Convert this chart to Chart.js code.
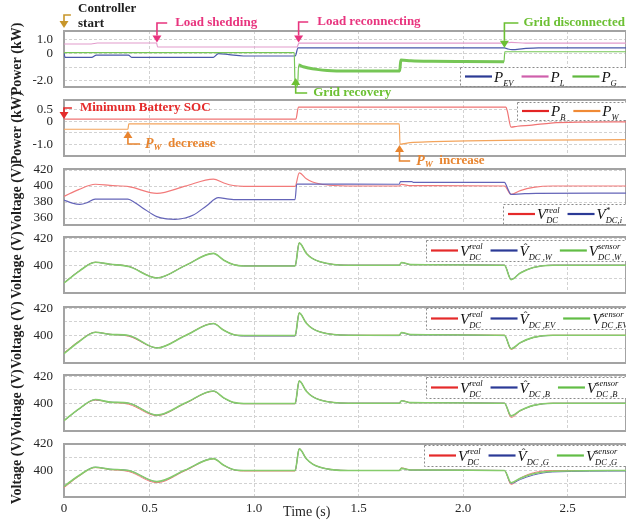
<!DOCTYPE html>
<html>
<head>
<meta charset="utf-8">
<script src="https://cdn.jsdelivr.net/npm/chart.js@4.4.1/dist/chart.umd.min.js"></script>
<style>
  html, body { margin: 0; padding: 0; background: #fff; }
  #wrap { position: relative; width: 626px; height: 521px; overflow: hidden; background: #fff; }
  #wrap canvas { position: absolute; left: 0; top: 0; }
</style>
</head>
<body>
<div id="wrap">
  <canvas id="p1" width="626" height="521"></canvas>
  <canvas id="p2" width="626" height="521"></canvas>
  <canvas id="p3" width="626" height="521"></canvas>
  <canvas id="p4" width="626" height="521"></canvas>
  <canvas id="p5" width="626" height="521"></canvas>
  <canvas id="p6" width="626" height="521"></canvas>
  <canvas id="p7" width="626" height="521"></canvas>
</div>
<script>
// ---------- time axis ----------
const T_START = 0.09;          // first recorded instant, shown as 0
const T_END = 2.78;
const X_TICKS = [T_START, 0.5, 1.0, 1.5, 2.0, 2.5];
const X_TICK_LABELS = ['0', '0.5', '1.0', '1.5', '2.0', '2.5'];

// ---------- power panel 1 (kW) ----------
const P1_TICKS = [1, 0, -1, -2];
const P1_TICK_LABELS = ['1.0', '0', '', '-2.0'];
const tPEV = [0.09, 0.095, 0.222, 0.245, 0.398, 0.414, 0.805, 0.829, 0.88, 0.949, 1.197, 1.21, 2.198, 2.215, 2.235, 2.29, 2.36, 2.78];
const pEV  = [0.06, -0.28, -0.28, -0.11, -0.11, -0.28, -0.28, 0.0, -0.08, -0.18, -0.18, 0.42, 0.42, 0.33, 0.28, 0.36, 0.42, 0.42];
const tPL = [0.09, 0.22, 0.25, 0.533, 0.538, 1.205, 1.215, 2.2, 2.23, 2.3, 2.78];
const pL  = [0.70, 0.70, 0.77, 0.77, 0.48, 0.48, 0.77, 0.76, 0.82, 0.76, 0.76];
const tPG = [0.09, 1.192, 1.196, 1.208, 1.213, 1.235, 1.26, 1.30, 1.35, 1.45, 1.60, 1.697, 1.702, 1.75, 1.85, 2.0, 2.196, 2.2, 2.78];
const pG  = [0.06, 0.06, -2.4, -2.4, -0.84, -0.97, -1.06, -1.16, -1.24, -1.28, -1.28, -1.27, -0.48, -0.53, -0.57, -0.59, -0.6, 0.13, 0.13];

// ---------- power panel 2 (kW) ----------
const P2_TICKS = [0.5, 0, -0.5, -1];
const P2_TICK_LABELS = ['0.5', '0', '', '-1.0'];
const tPB = [0.09, 1.2, 1.212, 2.205, 2.212, 2.23, 2.26, 2.33, 2.42, 2.55, 2.78];
const pB  = [0.10, 0.10, 0.62, 0.62, 0.45, -0.25, -0.21, -0.16, -0.07, -0.03, -0.02];
const tPW = [0.09, 0.396, 0.40, 1.695, 1.698, 1.747, 1.858, 2.02, 2.337, 2.78];
const pW  = [-0.34, -0.34, -0.11, -0.11, -0.99, -0.92, -0.88, -0.84, -0.81, -0.79];

// ---------- DC bus voltage (V) ----------
const V3_TICKS = [420, 400, 380, 360];
const V3_TICK_LABELS = ['420', '400', '380', '360'];
const V_TICKS = [420, 410, 400, 390];
const V_TICK_LABELS = ['420', '', '400', ''];

const tVi = [0.09, 0.13, 0.166, 0.2, 0.239, 0.396, 0.43, 0.47, 0.534, 0.58, 0.621, 0.67, 0.709, 0.773, 0.829, 0.87, 0.902, 1.196, 1.204, 1.695, 1.70, 1.755, 1.762, 2.198, 2.215, 2.23, 2.28, 2.35, 2.78];
const vDcI = [382.5, 378.5, 377, 379, 383.7, 383.5, 379, 372, 361.7, 358.8, 358.3, 360, 363.7, 375.4, 385.4, 384, 383, 383, 402.5, 402.2, 405.4, 405.4, 404.5, 404.5, 396, 389.6, 390.2, 390.8, 391];

const tV = [0.09, 0.16, 0.24, 0.31, 0.40, 0.535, 0.67, 0.805, 0.855, 0.90, 0.95, 1.196, 1.216, 1.25, 1.28, 1.316, 1.38, 1.45, 1.695, 1.705, 1.75, 2.198, 2.23, 2.274, 2.337, 2.43, 2.78];
const vDcReal = [387, 395.5, 402.2, 400.7, 399.2, 390.8, 399.8, 408.7, 403.8, 400.6, 399.6, 399.6, 416.5, 409, 405, 402.5, 400.6, 400, 400, 402, 400.4, 400, 389.5, 394.3, 398.3, 400, 400];
const vHatW  = [387, 395.4, 402.1, 400.7, 399.1, 390.7, 399.7, 408.6, 403.7, 400.5, 399.5, 399.5, 416.3, 408.8, 404.9, 402.5, 400.5, 400, 400, 401.9, 400.4, 400, 389.6, 394.3, 398.3, 400, 400];
const vSenW  = [386.9, 395.3, 402.2, 400.7, 399.0, 390.6, 399.7, 408.7, 403.7, 400.5, 399.4, 399.4, 416.5, 408.7, 404.8, 402.5, 400.5, 400, 400, 402, 400.4, 400, 389.4, 394.3, 398.3, 400, 400];
const vHatEV = [386.5, 395.1, 402.1, 400.6, 399.6, 390.7, 399.6, 408.5, 403.6, 400.4, 399.4, 399.4, 416.3, 408.8, 404.8, 402.4, 400.5, 400, 399.7, 401.8, 400.2, 399.7, 390.1, 394.4, 398.3, 399.8, 399.8];
const vSenEV = [386.4, 395, 402.2, 400.6, 399.8, 390.6, 399.6, 408.6, 403.6, 400.5, 399.8, 399.8, 416.5, 408.8, 404.8, 402.4, 400.5, 400, 400, 402, 400.4, 400, 390, 394.5, 398.4, 400, 400];
const vHatB  = [387.1, 395.5, 402.6, 400.8, 400, 391.2, 400, 408.9, 403.8, 400.5, 399.7, 399.7, 416.3, 408.8, 404.8, 402.4, 400.5, 400, 400, 401.8, 400.4, 400, 390.6, 394.5, 398.3, 399.9, 400];
const vSenB  = [387.1, 395.6, 402.7, 400.8, 400, 391.2, 400.1, 409, 403.9, 400.6, 399.8, 399.8, 416.5, 408.8, 404.8, 402.4, 400.5, 400, 400, 401.8, 400.4, 400, 390.7, 394.6, 398.4, 400, 400];
const vHatG  = [388, 396, 402.5, 401, 400, 391.6, 400.3, 409, 404, 400.7, 400, 400, 416.2, 408.8, 404.8, 402.4, 400.5, 400, 400, 401.6, 400.3, 400, 390.3, 393.2, 396.6, 398.9, 399.6];
const vSenG  = [388, 396, 402.5, 401, 400, 391.6, 400.3, 409, 404, 400.7, 400, 400, 416.3, 408.8, 404.8, 402.4, 400.5, 400, 400, 401.6, 400.4, 400, 390.8, 394.2, 397.6, 399.4, 400];

// ---------- styling ----------
const SERIF = '"Liberation Serif", "Times New Roman", serif';
const GRID = '#d2d2d2';
const FRAME = '#a3a3a3';
const TXT = '#262626';
const B13 = 'bold 13px ' + SERIF;
const BI14 = 'italic bold 14px ' + SERIF;
const BI9 = 'italic bold 9px ' + SERIF;

const C = {
  ev: '#4a58aa', evKey: '#2b3a94',
  load: '#e29ccc', loadKey: '#cf5fab',
  grid: '#76c656', gridKey: '#5fb83d',
  bat: '#f07474', batKey: '#e32424',
  wind: '#f3a45c', windKey: '#f08a35',
  real: '#f27a7a', realKey: '#e52a2a',
  est: '#6464b8', estKey: '#2b3a96',
  sen: '#86cc6c', senKey: '#62bd45'
};

function series(label, t, v, color, extra) {
  return Object.assign({
    label,
    data: t.map((x, i) => ({ x, y: v[i] })),
    borderColor: color,
    backgroundColor: color,
    borderWidth: 1.2,
    pointRadius: 0,
    fill: false,
    cubicInterpolationMode: 'monotone'
  }, extra || {});
}

// ---------- text helpers ----------
function drawRich(ctx, x, y, parts, color) {
  ctx.fillStyle = color;
  ctx.textBaseline = 'middle';
  ctx.textAlign = 'left';
  for (const p of parts) {
    ctx.font = p.f;
    ctx.fillText(p.s, x, y + (p.dy || 0));
    x += ctx.measureText(p.s).width;
  }
}

// italic symbol with stacked sub/superscript, optional hat
function drawSymbol(ctx, x, y, m) {
  ctx.fillStyle = '#111';
  ctx.textBaseline = 'alphabetic';
  ctx.textAlign = 'left';
  ctx.font = 'italic 15px ' + SERIF;
  ctx.fillText(m.b, x, y);
  const wb = ctx.measureText(m.b).width;
  if (m.hat) {
    ctx.font = '11px ' + SERIF;
    ctx.textAlign = 'center';
    ctx.fillText('\u02C6', x + wb / 2 + 1.5, y - 5);
    ctx.textAlign = 'left';
  }
  ctx.font = 'italic 8.5px ' + SERIF;
  let w2 = 0;
  if (m.sub) { ctx.fillText(m.sub, x + wb, y + 4); w2 = ctx.measureText(m.sub).width; }
  if (m.sup) { ctx.fillText(m.sup, x + wb, y - 6.5); w2 = Math.max(w2, ctx.measureText(m.sup).width); }
  return wb + w2;
}

function drawLegend(ctx, L) {
  ctx.save();
  ctx.fillStyle = '#fff';
  ctx.fillRect(L.x, L.y, L.w, L.h);
  ctx.strokeStyle = '#8a8a8a';
  ctx.lineWidth = 1;
  ctx.setLineDash([2, 2]);
  ctx.strokeRect(L.x + 0.5, L.y + 0.5, L.w, L.h);
  ctx.setLineDash([]);
  const cy = L.y + L.h / 2;
  let x = L.x + 5;
  for (const it of L.items) {
    ctx.strokeStyle = it.color;
    ctx.lineWidth = 2.2;
    ctx.beginPath();
    ctx.moveTo(x, cy);
    ctx.lineTo(x + 27, cy);
    ctx.stroke();
    x += 29;
    x += drawSymbol(ctx, x, cy + 5, it.m) + 8;
  }
  ctx.restore();
}

function drawNote(ctx, n, X, Y) {
  const x = X(n.t), xh = X(n.hEnd), yTip = Y(n.tip), yElb = Y(n.elbow);
  const dir = yTip > yElb ? 1 : -1;
  const head = 7;
  ctx.save();
  ctx.strokeStyle = n.color;
  ctx.fillStyle = n.color;
  ctx.lineWidth = 1.6;
  ctx.beginPath();
  ctx.moveTo(xh, yElb);
  ctx.lineTo(x, yElb);
  ctx.lineTo(x, yTip - dir * head);
  ctx.stroke();
  ctx.beginPath();
  ctx.moveTo(x, yTip);
  ctx.lineTo(x - 4.5, yTip - dir * head);
  ctx.lineTo(x + 4.5, yTip - dir * head);
  ctx.closePath();
  ctx.fill();
  for (const line of n.lines) drawRich(ctx, X(n.textT), Y(line.v), line.parts, n.textColor || n.color);
  ctx.restore();
}

const PW_DEC = [{ s: 'P', f: BI14 }, { s: 'W', f: BI9, dy: 4 }, { s: '  decrease', f: B13 }];
const PW_INC = [{ s: 'P', f: BI14 }, { s: 'W', f: BI9, dy: 4 }, { s: '  increase', f: B13 }];

const VREAL = { b: 'V', sub: 'DC', sup: 'real' };

// annotations and legends for each panel
const DECOR = {
  p1: {
    notes: [
      { color: '#c8962a', textColor: '#1e1e1e', t: T_START, hEnd: 0.123, elbow: 2.82, tip: 1.87, textT: 0.157,
        lines: [{ v: 3.26, parts: [{ s: 'Controller', f: B13 }] }, { v: 2.16, parts: [{ s: 'start', f: B13 }] }] },
      { color: '#e8347e', t: 0.535, hEnd: 0.584, elbow: 2.236, tip: 0.8, textT: 0.622,
        lines: [{ v: 2.236, parts: [{ s: 'Load shedding', f: B13 }] }] },
      { color: '#e8347e', t: 1.213, hEnd: 1.259, elbow: 2.31, tip: 0.8, textT: 1.302,
        lines: [{ v: 2.31, parts: [{ s: 'Load reconnecting', f: B13 }] }] },
      { color: '#6cc033', t: 2.198, hEnd: 2.265, elbow: 2.236, tip: 0.43, textT: 2.289,
        lines: [{ v: 2.236, parts: [{ s: 'Grid disconnected', f: B13 }] }] },
      { color: '#6cc033', t: 1.199, hEnd: 1.254, elbow: -2.89, tip: -1.79, textT: 1.283,
        lines: [{ v: -2.89, parts: [{ s: 'Grid recovery', f: B13 }] }] }
    ],
    legend: { x: 460, y: 67, w: 180, h: 19, items: [
      { color: C.evKey, m: { b: 'P', sub: 'EV' } },
      { color: C.loadKey, m: { b: 'P', sub: 'L' } },
      { color: C.gridKey, m: { b: 'P', sub: 'G' } }
    ] }
  },
  p2: {
    notes: [
      { color: '#e52b2b', t: T_START, hEnd: 0.128, elbow: 0.583, tip: 0.106, textT: 0.166,
        lines: [{ v: 0.583, parts: [{ s: 'Minimum Battery SOC', f: B13 }] }] },
      { color: '#e8842e', t: 0.396, hEnd: 0.454, elbow: -0.979, tip: -0.415, textT: 0.478,
        lines: [{ v: -0.979, parts: PW_DEC }] },
      { color: '#e8842e', t: 1.696, hEnd: 1.747, elbow: -1.716, tip: -1.022, textT: 1.776,
        lines: [{ v: -1.716, parts: PW_INC }] }
    ],
    legend: { x: 517, y: 102, w: 125, h: 18, items: [
      { color: C.batKey, m: { b: 'P', sub: 'B' } },
      { color: C.windKey, m: { b: 'P', sub: 'W' } }
    ] }
  },
  p3: {
    legend: { x: 503, y: 204, w: 130, h: 20, items: [
      { color: C.realKey, m: VREAL },
      { color: C.estKey, m: { b: 'V', sub: 'DC,i', sup: '*' } }
    ] }
  },
  p4: {
    legend: { x: 426, y: 240, w: 210, h: 21, items: [
      { color: C.realKey, m: VREAL },
      { color: C.estKey, m: { b: 'V', hat: true, sub: 'DC ,W' } },
      { color: C.senKey, m: { b: 'V', sub: 'DC ,W', sup: 'sensor' } }
    ] }
  },
  p5: {
    legend: { x: 426, y: 308, w: 210, h: 21, items: [
      { color: C.realKey, m: VREAL },
      { color: C.estKey, m: { b: 'V', hat: true, sub: 'DC ,EV' } },
      { color: C.senKey, m: { b: 'V', sub: 'DC ,EV', sup: 'sensor' } }
    ] }
  },
  p6: {
    legend: { x: 426, y: 377, w: 210, h: 21, items: [
      { color: C.realKey, m: VREAL },
      { color: C.estKey, m: { b: 'V', hat: true, sub: 'DC ,B' } },
      { color: C.senKey, m: { b: 'V', sub: 'DC ,B', sup: 'sensor' } }
    ] }
  },
  p7: {
    legend: { x: 424, y: 445, w: 212, h: 21, items: [
      { color: C.realKey, m: VREAL },
      { color: C.estKey, m: { b: 'V', hat: true, sub: 'DC ,G' } },
      { color: C.senKey, m: { b: 'V', sub: 'DC ,G', sup: 'sensor' } }
    ] },
    xTitle: { text: 'Time (s)', t: 1.252, offset: 15 }
  }
};

const decor = {
  id: 'decor',
  beforeDatasetsDraw(chart) {
    const { ctx, chartArea: a } = chart;
    ctx.save();
    ctx.strokeStyle = FRAME;
    ctx.lineWidth = 2;
    ctx.strokeRect(a.left, a.top, a.right - a.left, a.bottom - a.top);
    ctx.restore();
  },
  afterDraw(chart) {
    const d = DECOR[chart.canvas.id];
    if (!d) return;
    const ctx = chart.ctx;
    const xs = chart.scales.x, ys = chart.scales.y;
    const X = t => xs.getPixelForValue(t);
    const Y = v => ys.getPixelForValue(v);
    (d.notes || []).forEach(n => drawNote(ctx, n, X, Y));
    if (d.legend) drawLegend(ctx, d.legend);
    if (d.xTitle) {
      ctx.save();
      ctx.font = '14px ' + SERIF;
      ctx.fillStyle = TXT;
      ctx.textAlign = 'center';
      ctx.textBaseline = 'middle';
      ctx.fillText(d.xTitle.text, X(d.xTitle.t), chart.chartArea.bottom + d.xTitle.offset);
      ctx.restore();
    }
  }
};

// estimator / true-voltage traces sit under the sensor trace
const UNDER = { borderWidth: 1 };
const TOP = { borderWidth: 1.6 };

const PANELS = [
  { id: 'p1', top: 31, bottom: 87, min: -2.45, max: 1.65, ticks: P1_TICKS, labels: P1_TICK_LABELS, title: 'Power (kW)',
    datasets: [
      series('P_EV', tPEV, pEV, C.ev, { order: 2 }),
      series('P_L', tPL, pL, C.load, { order: 3 }),
      series('P_G', tPG, pG, C.grid, { order: 1,
        segment: { borderWidth: c => (c.p0.parsed.x >= 1.212 && c.p1.parsed.x <= 2.197) ? 3 : undefined } })
    ] },
  { id: 'p2', top: 100, bottom: 156, min: -1.5, max: 0.93, ticks: P2_TICKS, labels: P2_TICK_LABELS, title: 'Power (kW)',
    datasets: [
      series('P_B', tPB, pB, C.bat, { order: 2 }),
      series('P_W', tPW, pW, C.wind, { order: 1 })
    ] },
  { id: 'p3', top: 169, bottom: 225, min: 351.25, max: 421.25, ticks: V3_TICKS, labels: V3_TICK_LABELS, title: 'Voltage (V)',
    datasets: [
      series('V_DC real', tV, vDcReal, C.real, { order: 2 }),
      series('V*_DC,i', tVi, vDcI, C.est, { order: 1 })
    ] },
  { id: 'p4', top: 237, bottom: 293, min: 379.5, max: 420.8, ticks: V_TICKS, labels: V_TICK_LABELS, title: 'Voltage (V)',
    datasets: [
      series('V_DC real', tV, vDcReal, C.real, Object.assign({ order: 3 }, UNDER)),
      series('V^_DC,W', tV, vHatW, C.est, Object.assign({ order: 2 }, UNDER)),
      series('V_DC,W sensor', tV, vSenW, C.sen, Object.assign({ order: 1 }, TOP))
    ] },
  { id: 'p5', top: 307, bottom: 363, min: 379.5, max: 420.8, ticks: V_TICKS, labels: V_TICK_LABELS, title: 'Voltage (V)',
    datasets: [
      series('V_DC real', tV, vDcReal, C.real, Object.assign({ order: 3 }, UNDER)),
      series('V^_DC,EV', tV, vHatEV, C.est, Object.assign({ order: 2 }, UNDER)),
      series('V_DC,EV sensor', tV, vSenEV, C.sen, Object.assign({ order: 1 }, TOP))
    ] },
  { id: 'p6', top: 375, bottom: 431, min: 379.5, max: 420.8, ticks: V_TICKS, labels: V_TICK_LABELS, title: 'Voltage (V)',
    datasets: [
      series('V_DC real', tV, vDcReal, C.real, Object.assign({ order: 3 }, UNDER)),
      series('V^_DC,B', tV, vHatB, C.est, Object.assign({ order: 2 }, UNDER)),
      series('V_DC,B sensor', tV, vSenB, C.sen, Object.assign({ order: 1 }, TOP))
    ] },
  { id: 'p7', top: 444, bottom: 497, min: 380, max: 420, ticks: V_TICKS, labels: V_TICK_LABELS, title: 'Voltage (V)', showX: true,
    datasets: [
      series('V_DC real', tV, vDcReal, C.real, Object.assign({ order: 3 }, UNDER)),
      series('V^_DC,G', tV, vHatG, C.est, Object.assign({ order: 2 }, UNDER)),
      series('V_DC,G sensor', tV, vSenG, C.sen, Object.assign({ order: 1 }, TOP))
    ] }
];

const CANVAS_H = 521;
const Y_AXIS_W = 64;
const X_AXIS_H = 24;

PANELS.forEach(p => {
  const xH = p.showX ? X_AXIS_H : 0;
  new Chart(document.getElementById(p.id), {
    type: 'line',
    data: { datasets: p.datasets },
    options: {
      responsive: false,
      animation: false,
      devicePixelRatio: 1,
      events: [],
      layout: { padding: { top: p.top, bottom: CANVAS_H - p.bottom - xH, left: 0, right: 0 } },
      plugins: { legend: { display: false }, tooltip: { enabled: false } },
      scales: {
        x: {
          type: 'linear', min: T_START, max: T_END,
          afterBuildTicks: s => { s.ticks = X_TICKS.map(v => ({ value: v })); },
          afterFit: s => { s.height = xH; },
          grid: { color: GRID, lineWidth: 1, drawTicks: false },
          border: { display: false, dash: [3, 2] },
          ticks: { display: !!p.showX, padding: 4, color: TXT, font: { family: SERIF, size: 13 },
                   maxRotation: 0, autoSkip: false, callback: (v, i) => X_TICK_LABELS[i] }
        },
        y: {
          type: 'linear', min: p.min, max: p.max,
          afterBuildTicks: s => { s.ticks = p.ticks.map(v => ({ value: v })); },
          afterFit: s => { s.width = Y_AXIS_W; },
          grid: { color: GRID, lineWidth: 1, drawTicks: false },
          border: { display: false, dash: [3, 2] },
          ticks: { padding: 11, color: TXT, font: { family: SERIF, size: 13 }, autoSkip: false,
                   callback: (v, i) => p.labels[i] },
          title: { display: true, text: p.title, color: '#1e1e1e',
                   font: { family: SERIF, size: 14, weight: 'bold' }, padding: { top: 9, bottom: 0 } }
        }
      }
    },
    plugins: [decor]
  });
});
</script>
</body>
</html>
